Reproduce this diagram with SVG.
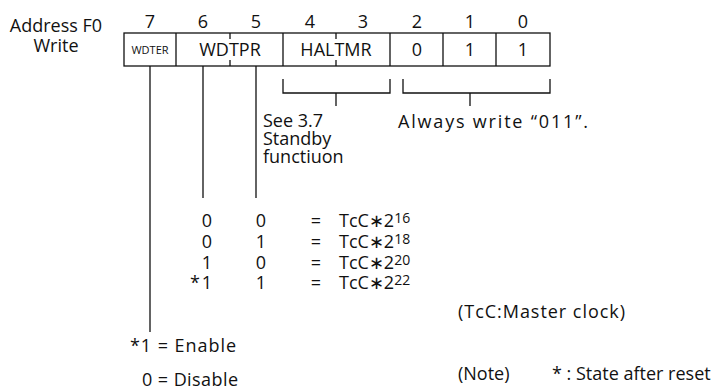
<svg xmlns="http://www.w3.org/2000/svg" width="725" height="390" viewBox="0 0 725 390">
<style>
text{font-family:"Open Sans","Noto Sans",sans-serif;font-size:18px;fill:#111}
.m{text-anchor:middle}
.s{font-size:11px}
.sup{font-size:14px}
.ln{stroke:#111;stroke-width:1.3;fill:none}
.box{stroke:#111;stroke-width:1.3;fill:#fff}
</style>
<rect width="725" height="390" fill="#fff"/>
<g id="title">
<text x="56" y="32" class="m">Address F0</text>
<text x="56" y="52" class="m">Write</text>
</g>
<g id="bitnums">
<text x="150" y="28" class="m">7</text>
<text x="203" y="28" class="m">6</text>
<text x="256" y="28" class="m">5</text>
<text x="310" y="28" class="m">4</text>
<text x="363" y="28" class="m">3</text>
<text x="417" y="28" class="m">2</text>
<text x="470" y="28" class="m">1</text>
<text x="523" y="28" class="m">0</text>
</g>
<g id="register">
<rect x="124" y="33" width="426" height="33" class="box"/>
<path d="M176 33V66M283 33V66M390 33V66M443 33V66M496 33V66M230 33v6M230 60v6M336 33v6M336 60v6" class="ln"/>
<text x="150" y="54" class="m s">WDTER</text>
<text x="230" y="56" class="m">WDTPR</text>
<text x="336" y="56" class="m">HALTMR</text>
<text x="417" y="56" class="m">0</text>
<text x="470" y="56" class="m">1</text>
<text x="523" y="56" class="m">1</text>
</g>
<g id="connectors">
<path d="M150 66V332M203 66V198M256 66V198" class="ln"/>
<path d="M283 79V93H390V79M336 93V106" class="ln"/>
<path d="M403 79V93H550V79M470 93V106" class="ln"/>
</g>
<g id="halt-note">
<text x="263" y="127">See 3.7</text>
<text x="263" y="145">Standby</text>
<text x="263" y="163">functiuon</text>
</g>
<g id="always-note">
<text x="398" y="128" textLength="190">Always write “011”.</text>
</g>
<g id="table">
<text x="207" y="227" class="m">0</text><text x="261" y="227" class="m">0</text><text x="316" y="227" class="m">=</text><text x="339" y="227">TcC∗2<tspan dy="-4" class="sup">16</tspan></text>
<text x="207" y="248" class="m">0</text><text x="261" y="248" class="m">1</text><text x="316" y="248" class="m">=</text><text x="339" y="248">TcC∗2<tspan dy="-4" class="sup">18</tspan></text>
<text x="207" y="269" class="m">1</text><text x="261" y="269" class="m">0</text><text x="316" y="269" class="m">=</text><text x="339" y="269">TcC∗2<tspan dy="-4" class="sup">20</tspan></text>
<text x="200" y="289" text-anchor="end">*</text><text x="207" y="289" class="m">1</text><text x="261" y="289" class="m">1</text><text x="316" y="289" class="m">=</text><text x="339" y="289">TcC∗2<tspan dy="-4" class="sup">22</tspan></text>
</g>
<g id="enable-note">
<text x="130" y="352" textLength="106">*1 = Enable</text>
<text x="142" y="386" textLength="96">0 = Disable</text>
</g>
<g id="notes">
<text x="458" y="318" textLength="167">(TcC:Master clock)</text>
<text x="458" y="380">(Note)</text>
<text x="552" y="380">* : State after reset</text>
</g>
</svg>
